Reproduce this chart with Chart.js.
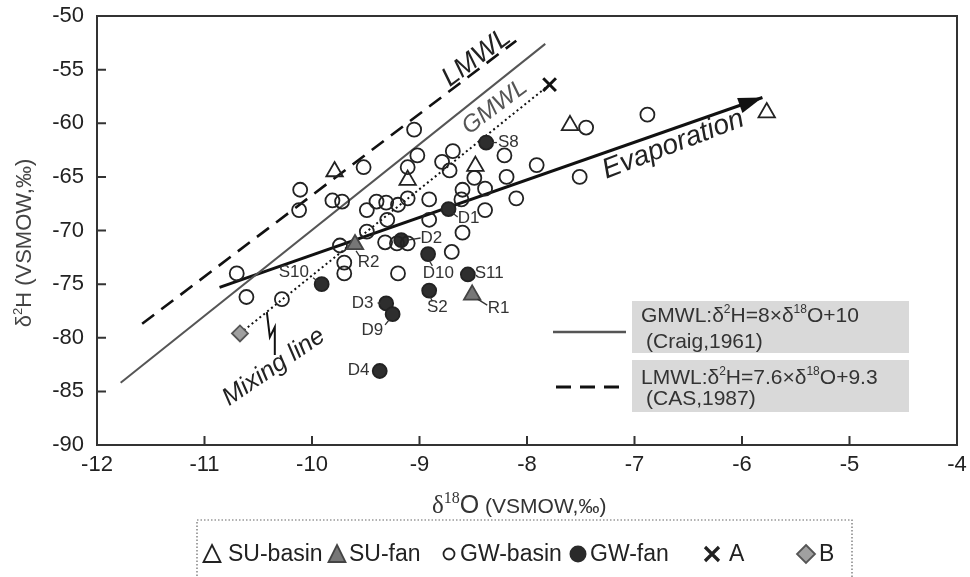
<!DOCTYPE html>
<html>
<head>
<meta charset="utf-8">
<script src="https://cdn.jsdelivr.net/npm/chart.js@4.4.1/dist/chart.umd.min.js"></script>
<style>
html, body { margin: 0; padding: 0; background: #fff; }
</style>
</head>
<body>
<canvas id="c" width="970" height="577"></canvas>
<script>
"use strict"

// sample values: d18O (x) and d2H (y)
const suBasinX = [-9.79, -9.11, -8.48, -7.60, -5.77];
const suBasinY = [-64.5, -65.3, -64.0, -60.2, -59.0];

const suFanX = [-9.60, -8.51];
const suFanY = [-71.3, -76.0];

const gwBasinX = [-10.70, -10.61, -10.28, -10.11, -10.12, -9.81, -9.72, -9.52, -9.05, -9.02,
    -9.11, -9.49, -9.40, -9.31, -9.30, -9.20, -9.11, -9.49, -9.74, -9.70,
    -9.70, -9.20, -9.32, -9.21, -9.11, -8.91, -8.91, -8.79, -8.69, -8.72,
    -8.49, -8.60, -8.39, -8.21, -8.19, -8.10, -7.91, -8.61, -8.39, -8.60,
    -8.70, -7.51, -7.45, -6.88];
const gwBasinY = [-74.0, -76.2, -76.4, -66.2, -68.1, -67.2, -67.3, -64.1, -60.6, -63.0,
    -64.1, -68.1, -67.3, -67.4, -69.0, -67.6, -67.0, -70.1, -71.4, -73.0,
    -74.0, -74.0, -71.1, -71.2, -71.2, -67.1, -69.0, -63.6, -62.6, -64.4,
    -65.1, -66.2, -66.1, -63.0, -65.0, -67.0, -63.9, -67.1, -68.1, -70.2,
    -72.0, -65.0, -60.4, -59.2];

const gwFanX = [-8.38, -8.73, -9.17, -8.92, -8.55, -8.91, -9.31, -9.25, -9.37, -9.91];
const gwFanY = [-61.8, -68.0, -70.9, -72.2, -74.1, -75.6, -76.8, -77.8, -83.1, -75.0];

const aX = [-7.79], aY = [-56.4];
const bX = [-10.67], bY = [-79.6];

// reference lines (end points as drawn)
const gmwlX = [-11.78, -7.83], gmwlY = [-84.2, -52.6];
const lmwlX = [-11.58, -8.10], lmwlY = [-78.7, -52.3];
const mixX = [-10.67, -7.79], mixY = [-79.6, -56.4];
const evapX = [-10.86, -5.81], evapY = [-75.3, -57.6];

// sample names next to the points
const ptLabels = ['S8', 'D1', 'D2', 'R2', 'S10', 'D10', 'S11', 'D3', 'S2', 'R1', 'D9', 'D4'];
const ptLabelX = [-8.27, -8.645, -8.99, -9.574, -10.31, -8.97, -8.487, -9.63, -8.93, -8.366, -9.54, -9.667];
const ptLabelY = [-61.8, -68.9, -70.7, -72.95, -73.9, -73.97, -73.97, -76.8, -77.2, -77.3, -79.3, -83.0];

const leaders = [
    [-8.33, -61.8, -8.28, -61.8],
    [-8.69, -68.4, -8.645, -68.75],
    [-9.11, -70.9, -8.99, -70.7],
    [-9.59, -71.9, -9.55, -72.5],
    [-9.99, -74.4, -9.95, -74.7],
    [-8.91, -72.8, -8.88, -73.3],
    [-9.39, -76.75, -9.36, -76.8],
    [-8.90, -76.2, -8.88, -76.6],
    [-8.46, -76.4, -8.37, -76.96],
    [-9.28, -78.3, -9.32, -78.8]
];

const zigX = [-10.42, -10.392, -10.346, -10.346];
const zigY = [-77.6, -79.94, -79.01, -81.62];

const F = "'Liberation Sans', Arial, sans-serif";

function toXY(xs, ys) {
    return xs.map((x, i) => ({ x: x, y: ys[i] }));
}

function lineSet(xs, ys, color, width, dash) {
    return {
        data: toXY(xs, ys), showLine: true, borderColor: color, borderWidth: width,
        borderDash: dash, pointRadius: 0, fill: false, order: 10
    };
}

function pts(label, xs, ys, style, r, fill, stroke, bw) {
    return {
        label: label, data: toXY(xs, ys), pointStyle: style, pointRadius: r,
        backgroundColor: fill, borderColor: stroke, pointBorderWidth: bw || 1.8, order: 0
    };
}

function rotText(ctx, s, x, y, deg, font, color) {
    ctx.save();
    ctx.translate(x, y);
    ctx.rotate(deg * Math.PI / 180);
    ctx.font = font;
    ctx.fillStyle = color;
    ctx.textAlign = 'center';
    ctx.textBaseline = 'middle';
    ctx.fillText(s, 0, 0);
    ctx.restore();
}

// parts: [text, font, raise]
function richText(ctx, parts, x, y, color) {
    ctx.fillStyle = color;
    ctx.textAlign = 'left';
    ctx.textBaseline = 'alphabetic';
    let cx = x;
    parts.forEach(p => {
        ctx.font = p[1];
        ctx.fillText(p[0], cx, y - (p[2] || 0));
        cx += ctx.measureText(p[0]).width;
    });
    return cx;
}

function symbol(ctx, kind, x, y) {
    ctx.save();
    ctx.lineWidth = 1.8;
    ctx.strokeStyle = '#222';
    ctx.beginPath();
    if (kind == 'tri' || kind == 'triF') {
        ctx.moveTo(x, y - 10); ctx.lineTo(x + 8.5, y + 7); ctx.lineTo(x - 8.5, y + 7); ctx.closePath();
        if (kind == 'triF') { ctx.fillStyle = '#777'; ctx.fill(); ctx.strokeStyle = '#444'; }
        ctx.stroke();
    } else if (kind == 'circ') {
        ctx.arc(x, y - 1, 5.5, 0, Math.PI * 2); ctx.stroke();
    } else if (kind == 'circF') {
        ctx.arc(x, y - 1, 8.5, 0, Math.PI * 2); ctx.fillStyle = '#2a2a2a'; ctx.fill();
    } else if (kind == 'cross') {
        ctx.lineWidth = 3.2;
        ctx.moveTo(x - 7, y - 8); ctx.lineTo(x + 7, y + 6);
        ctx.moveTo(x + 7, y - 8); ctx.lineTo(x - 7, y + 6); ctx.stroke();
    } else {
        ctx.moveTo(x, y - 10); ctx.lineTo(x + 9, y - 1); ctx.lineTo(x, y + 8); ctx.lineTo(x - 9, y - 1); ctx.closePath();
        ctx.fillStyle = '#a0a0a0'; ctx.fill(); ctx.strokeStyle = '#555'; ctx.stroke();
    }
    ctx.restore();
}

const decor = {
    id: 'decor',
    afterDatasetsDraw(chart) {
        const ctx = chart.ctx;
        const xs = chart.scales.x, ys = chart.scales.y;
        const px = v => xs.getPixelForValue(v), py = v => ys.getPixelForValue(v);
        ctx.save();

        // arrow head of evaporation line
        const x1 = px(evapX[0]), y1 = py(evapY[0]), x2 = px(evapX[1]), y2 = py(evapY[1]);
        const ang = Math.atan2(y2 - y1, x2 - x1);
        ctx.fillStyle = '#111';
        ctx.beginPath();
        ctx.moveTo(x2, y2);
        ctx.lineTo(x2 - 24 * Math.cos(ang) + 8 * Math.sin(ang), y2 - 24 * Math.sin(ang) - 8 * Math.cos(ang));
        ctx.lineTo(x2 - 24 * Math.cos(ang) - 8 * Math.sin(ang), y2 - 24 * Math.sin(ang) + 8 * Math.cos(ang));
        ctx.closePath();
        ctx.fill();

        // leader lines to sample names
        ctx.strokeStyle = '#333';
        ctx.lineWidth = 1.3;
        leaders.forEach(l => {
            ctx.beginPath();
            ctx.moveTo(px(l[0]), py(l[1]));
            ctx.lineTo(px(l[2]), py(l[3]));
            ctx.stroke();
        });

        // zig-zag pointer of the mixing line
        ctx.strokeStyle = '#111';
        ctx.lineWidth = 2;
        ctx.beginPath();
        zigX.forEach((x, i) => i ? ctx.lineTo(px(x), py(zigY[i])) : ctx.moveTo(px(x), py(zigY[i])));
        ctx.stroke();

        ptLabels.forEach((s, i) => {
            ctx.font = '17px ' + F;
            ctx.fillStyle = '#333';
            ctx.textAlign = 'left';
            ctx.textBaseline = 'middle';
            ctx.fillText(s, px(ptLabelX[i]), py(ptLabelY[i]));
        });

        rotText(ctx, 'LMWL', px(-8.47), py(-53.9), -37, 'italic 27px ' + F, '#222');
        rotText(ctx, 'GMWL', px(-8.30), py(-58.5), -37, 'italic 24px ' + F, '#555');
        rotText(ctx, 'Evaporation', px(-6.64), py(-62.0), -21, 'italic 28px ' + F, '#222');
        rotText(ctx, 'Mixing line', px(-10.355), py(-82.74), -34.5, 'italic 25px ' + F, '#222');
        ctx.restore();
    },
    afterDraw(chart) {
        const ctx = chart.ctx;
        const a = chart.chartArea;
        const xs = chart.scales.x, ys = chart.scales.y;
        ctx.save();

        // frame and inward ticks
        ctx.strokeStyle = '#333';
        ctx.lineWidth = 2;
        ctx.strokeRect(a.left, a.top, a.right - a.left, a.bottom - a.top);
        ctx.beginPath();
        xs.ticks.forEach(t => {
            const x = xs.getPixelForValue(t.value);
            ctx.moveTo(x, a.bottom); ctx.lineTo(x, a.bottom - 9);
        });
        ys.ticks.forEach(t => {
            const y = ys.getPixelForValue(t.value);
            ctx.moveTo(a.left, y); ctx.lineTo(a.left + 9, y);
        });
        ctx.stroke();

        // equation boxes
        ctx.fillStyle = '#d9d9d9';
        ctx.fillRect(632, 301, 277, 52);
        ctx.fillRect(632, 360, 277, 52);
        ctx.strokeStyle = '#555';
        ctx.lineWidth = 2.5;
        ctx.beginPath(); ctx.moveTo(553, 332); ctx.lineTo(626, 332); ctx.stroke();
        ctx.strokeStyle = '#111';
        ctx.lineWidth = 3;
        ctx.setLineDash([15, 9]);
        ctx.beginPath(); ctx.moveTo(556, 387); ctx.lineTo(628, 387); ctx.stroke();
        ctx.setLineDash([]);

        const f21 = '21px ' + F, sup = '12px ' + F;
        richText(ctx, [['GMWL:δ', f21], ['2', sup, 9], ['H=8×δ', f21], ['18', sup, 9], ['O+10', f21]], 641, 322, '#333');
        richText(ctx, [['(Craig,1961)', f21]], 646, 348, '#333');
        richText(ctx, [['LMWL:δ', f21], ['2', sup, 9], ['H=7.6×δ', f21], ['18', sup, 9], ['O+9.3', f21]], 641, 384, '#333');
        richText(ctx, [['(CAS,1987)', f21]], 646, 405, '#333');

        // axis titles
        richText(ctx, [['δ', "25px 'Liberation Serif', serif"], ['18', "16px 'Liberation Serif', serif", 10],
            ['O', '25px ' + F], [' (VSMOW,‰)', '21px ' + F]], 432, 513, '#333');
        ctx.save();
        ctx.translate(31, 243);
        ctx.rotate(-Math.PI / 2);
        ctx.font = '22px ' + F;
        let w = ctx.measureText('δ').width + ctx.measureText('H (VSMOW,‰)').width;
        ctx.font = '13px ' + F;
        w += ctx.measureText('2').width;
        richText(ctx, [['δ', '22px ' + F], ['2', '13px ' + F, 9], ['H (VSMOW,‰)', '22px ' + F]], -w / 2, 0, '#444');
        ctx.restore();

        // legend box
        ctx.strokeStyle = '#666';
        ctx.lineWidth = 1.2;
        ctx.setLineDash([1.5, 2]);
        ctx.strokeRect(197, 520, 655, 80);
        ctx.setLineDash([]);
        const items = [['tri', 212, 'SU-basin', 228], ['triF', 337, 'SU-fan', 349], ['circ', 449, 'GW-basin', 460],
            ['circF', 578, 'GW-fan', 590], ['cross', 712, 'A', 729], ['dia', 806, 'B', 819]];
        items.forEach(it => {
            symbol(ctx, it[0], it[1], 555);
            ctx.font = '23px ' + F;
            ctx.fillStyle = '#222';
            ctx.textAlign = 'left';
            ctx.textBaseline = 'middle';
            ctx.fillText(it[2], it[3], 555);
        });
        ctx.restore();
    }
};

Chart.defaults.font.family = F;

new Chart(document.getElementById('c'), {
    type: 'scatter',
    data: {
        datasets: [
            lineSet(gmwlX, gmwlY, '#555', 2, []),
            lineSet(lmwlX, lmwlY, '#111', 2.6, [15, 9]),
            lineSet(mixX, mixY, '#111', 2, [2, 3]),
            lineSet(evapX, evapY, '#111', 3, []),
            pts('SU-basin', suBasinX, suBasinY, 'triangle', 9.5, 'rgba(0,0,0,0)', '#222'),
            pts('SU-fan', suFanX, suFanY, 'triangle', 9.5, '#777', '#444'),
            pts('GW-basin', gwBasinX, gwBasinY, 'circle', 7, 'rgba(0,0,0,0)', '#222'),
            pts('GW-fan', gwFanX, gwFanY, 'circle', 7, '#2e2e2e', '#222'),
            pts('A', aX, aY, 'crossRot', 9, '#111', '#111', 3),
            pts('B', bX, bY, 'rectRot', 8, '#a0a0a0', '#555')
        ]
    },
    options: {
        responsive: false,
        animation: false,
        devicePixelRatio: 1,
        layout: { padding: { top: 16, right: 13, left: 0, bottom: 0 } },
        plugins: { legend: { display: false }, tooltip: { enabled: false } },
        scales: {
            x: {
                type: 'linear', min: -12, max: -4,
                ticks: { stepSize: 1, padding: 7, color: '#222', font: { size: 22 } },
                grid: { display: false, drawTicks: false },
                border: { display: false },
                afterFit: s => { s.height = 132; s.paddingLeft = 0; s.paddingRight = 0; }
            },
            y: {
                type: 'linear', min: -90, max: -50,
                ticks: { stepSize: 5, padding: 13, color: '#222', font: { size: 22 } },
                grid: { display: false, drawTicks: false },
                border: { display: false },
                afterFit: s => { s.width = 97; s.paddingTop = 0; s.paddingBottom = 0; }
            }
        }
    },
    plugins: [decor]
});
</script>
</body>
</html>
